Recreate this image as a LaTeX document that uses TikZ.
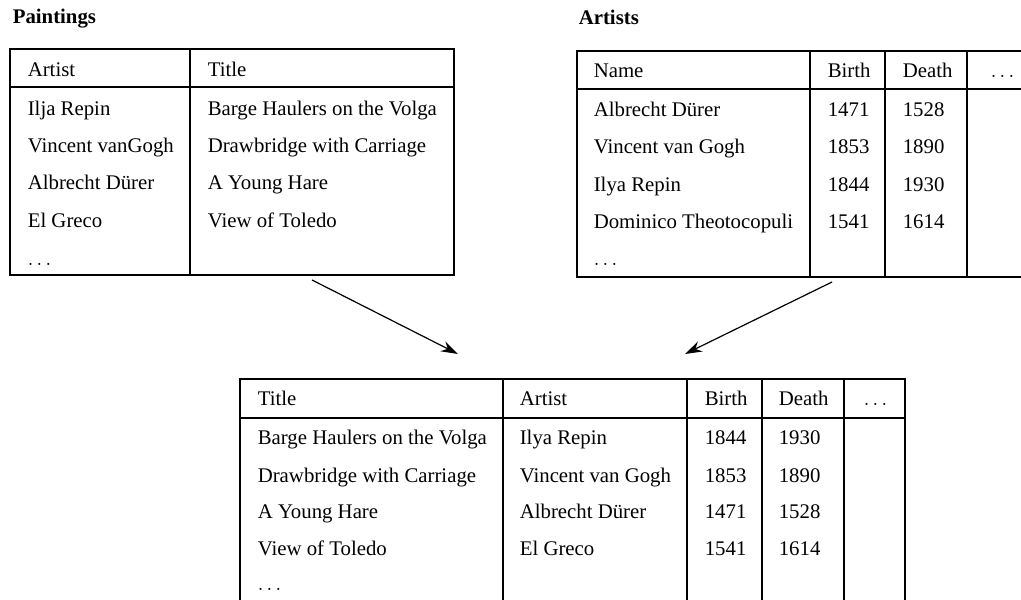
\documentclass[tikz,border=0pt]{standalone}
\usepackage{fontspec}
\setmainfont{Liberation Serif}
\usetikzlibrary{arrows.meta}

\begin{document}
\begin{tikzpicture}[x=0.5pt,y=-0.5pt,line width=0.8pt,
  txt/.style={anchor=base west,inner sep=0pt,font=\fontsize{10.4}{12}\selectfont},
  head/.style={txt,font=\fontsize{10.4}{12}\selectfont\bfseries},
  link/.style={-{Stealth[length=8.5pt,width=5.5pt]},line width=0.6pt}]
  \useasboundingbox (0,0) rectangle (1021,599);

  % Paintings
  \node[head] (paintings) at (12,24) {Paintings};
  \draw (10,49) rectangle (454,275);
  \draw (10,87) -- (454,87);
  \draw (190,49) -- (190,275);
  \node[txt] (p-artist) at (27,76) {Artist};
  \node[txt] (p-title) at (207,76) {Title};
  \foreach \y/\a/\t [count=\i] in {115/Ilja Repin/Barge Haulers on the Volga,
      152/Vincent vanGogh/Drawbridge with Carriage,
      189/Albrecht Dürer/A Young Hare,
      227/El Greco/View of Toledo}
  {
    \node[txt] (p-a\i) at (27,\y) {\a};
    \node[txt] (p-t\i) at (207,\y) {\t};
  }
  \node[txt] (p-dots) at (27,265) {$\ldots$};

  % Artists
  \node[head] (artists) at (578,25) {Artists};
  \draw (1030,51) -- (577,51) -- (577,277) -- (1030,277);
  \draw (577,89) -- (1030,89);
  \draw (810,51) -- (810,277);
  \draw (885,51) -- (885,277);
  \draw (967,51) -- (967,277);
  \node[txt] (a-name) at (593,77) {Name};
  \node[txt] (a-birth) at (827,77) {Birth};
  \node[txt] (a-death) at (902,77) {Death};
  \node[txt] (a-more) at (990,77) {$\ldots$};
  \foreach \y/\n/\b/\d [count=\i] in {117/Albrecht Dürer/1471/1528,
      153/Vincent van Gogh/1853/1890,
      191/Ilya Repin/1844/1930,
      228/Dominico Theotocopuli/1541/1614}
  {
    \node[txt] (a-n\i) at (593,\y) {\n};
    \node[txt] (a-b\i) at (827,\y) {\b};
    \node[txt] (a-d\i) at (902,\y) {\d};
  }
  \node[txt] (a-dots) at (593,265) {$\ldots$};

  % joined table
  \draw (240,620) -- (240,379) -- (905,379) -- (905,620);
  \draw (240,418) -- (905,418);
  \draw (503,379) -- (503,620);
  \draw (687,379) -- (687,620);
  \draw (762,379) -- (762,620);
  \draw (844,379) -- (844,620);
  \node[txt] (j-title) at (257,405) {Title};
  \node[txt] (j-artist) at (519,405) {Artist};
  \node[txt] (j-birth) at (704,405) {Birth};
  \node[txt] (j-death) at (778,405) {Death};
  \node[txt] (j-more) at (863,405) {$\ldots$};
  \foreach \y/\t/\a/\b/\d [count=\i] in {444/Barge Haulers on the Volga/Ilya Repin/1844/1930,
      482/Drawbridge with Carriage/Vincent van Gogh/1853/1890,
      518/A Young Hare/Albrecht Dürer/1471/1528,
      555/View of Toledo/El Greco/1541/1614}
  {
    \node[txt] (j-t\i) at (257,\y) {\t};
    \node[txt] (j-a\i) at (519,\y) {\a};
    \node[txt] (j-b\i) at (704,\y) {\b};
    \node[txt] (j-d\i) at (778,\y) {\d};
  }
  \node[txt] (j-dots) at (257,590) {$\ldots$};

  % arrows
  \coordinate (p-out) at (312,280);
  \coordinate (a-out) at (832,282);
  \coordinate (j-in1) at (458,354);
  \coordinate (j-in2) at (685,354);
  \draw[link] (p-out) -- (j-in1);
  \draw[link] (a-out) -- (j-in2);
\end{tikzpicture}
\end{document}
